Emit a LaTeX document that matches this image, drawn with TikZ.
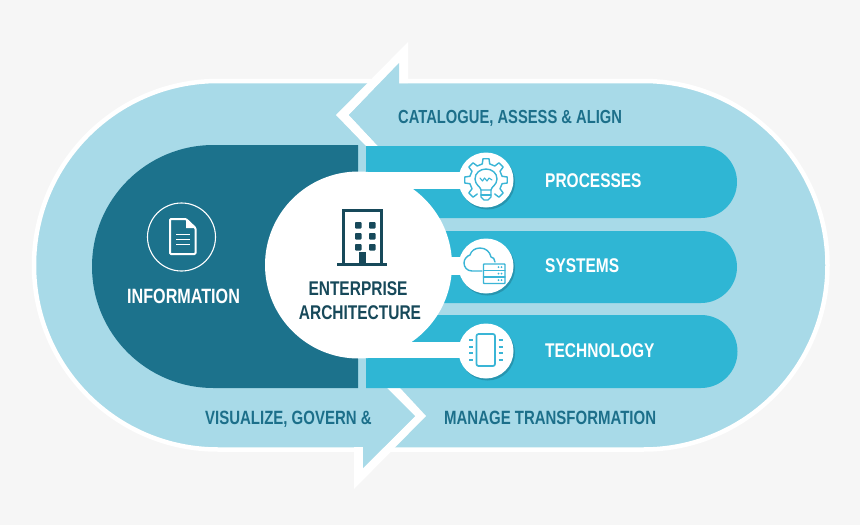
\documentclass[tikz,border=0pt]{standalone}
\usepackage{fontspec}
\setmainfont[FakeStretch=0.78]{Liberation Sans}
\usetikzlibrary{calc, positioning, shadows}
\definecolor{paper}{HTML}{F6F6F6}
\definecolor{pale}{HTML}{A8DAE8}
\definecolor{deep}{HTML}{1C728C}
\definecolor{bar}{HTML}{2FB6D4}
\definecolor{ink}{HTML}{17495A}
\definecolor{capt}{HTML}{1C6F8A}
\definecolor{glyph}{HTML}{3AB5D6}
\tikzset{
    captlabel/.style={anchor=base west, inner sep=0mm, text=capt, font=\bfseries\fontsize{18.9}{19}\selectfont},
    lowlabel/.style={captlabel, font=\bfseries\fontsize{19.2}{19}\selectfont},
    barlabel/.style={anchor=base west, inner sep=0mm, text=white, font=\bfseries\fontsize{19.85}{20}\selectfont},
    hublabel/.style={anchor=base, inner sep=0mm, text=ink, font=\bfseries\fontsize{19.85}{20}\selectfont},
    iconcircle/.style={circle, fill=white, minimum size=55pt, inner sep=0mm,
        drop shadow={shadow xshift=1.5pt, shadow yshift=-2pt, opacity=0.3, fill=ink}},
    glyphline/.style={draw=glyph, line width=1.4pt, line join=round, line cap=round}
}
\begin{document}
\begin{tikzpicture}[x=1pt, y=-1pt]
    \useasboundingbox (0, 0) rectangle (860, 525);
    \fill[paper] (0, 0) rectangle (860, 525);
    % outer band
    \draw[white, fill=pale, line width=4.5pt, rounded corners=184pt] (34, 81) rectangle (827.5, 449.5);
    % arrows
    \fill[white] (408, 42) -- (336, 115) -- (366, 146) -- (378, 146) -- (349, 115) -- (399, 63) -- (399, 83) -- (408, 83) -- cycle;
    \fill[pale] (399, 63) -- (349, 115) -- (378, 146) -- (399, 146) -- cycle;
    \fill[white] (354, 489) -- (426, 416) -- (400, 388) -- (387, 388) -- (415, 416) -- (363, 468) -- (363, 447) -- (354, 447) -- cycle;
    \fill[pale] (363, 468) -- (415, 416) -- (387, 388) -- (363, 388) -- cycle;
    % left block
    \fill[deep] (358, 145) -- (213.5, 145) arc[start angle=90, end angle=270, radius=121.5pt] -- (358, 388) -- cycle;
    % right bars
    \fill[bar] (366, 146) -- (701, 146) arc[start angle=90, end angle=-90, radius=36pt] -- (366, 218) -- cycle;
    \fill[bar] (366, 231) -- (701, 231) arc[start angle=90, end angle=-90, radius=36pt] -- (366, 303) -- cycle;
    \fill[bar] (366, 315) -- (701, 315) arc[start angle=90, end angle=-90, radius=36.5pt] -- (366, 388) -- cycle;
    % hub and stubs
    \node[circle, fill=white, minimum size=187pt, inner sep=0mm] (hub) at (358.5, 265) {};
    \fill[white] (358, 172) rectangle (486, 189);
    \fill[white] (440, 257) rectangle (486, 275);
    \fill[white] (358, 342) rectangle (486, 358);
    \node[iconcircle] (proc) at (486, 180) {};
    \node[iconcircle] (sys) at (486, 266) {};
    \node[iconcircle] (tech) at (486, 351) {};
    % building
    \draw[ink, line width=3pt] (343.5, 264) -- (343.5, 210.5) -- (381.5, 210.5) -- (381.5, 264);
    \draw[ink, line width=3pt] (337, 264.5) -- (387, 264.5);
    \foreach \wy in {222, 233, 244}
        \foreach \wx in {355, 369}
            \fill[ink, rounded corners=0.8pt] (\wx, \wy) rectangle ++(6.5, 6.5);
    \fill[ink] (359, 252) rectangle (366, 264);
    % document
    \node[circle, draw=white, line width=1.1pt, minimum size=68pt, inner sep=0mm] (info) at (181.5, 237) {};
    \draw[white, line width=2pt, line join=round, rounded corners=1pt] (170, 219) -- (186, 219) -- (195.5, 228) -- (195.5, 254) -- (170, 254) -- cycle;
    \fill[white] (186, 219) -- (186, 228) -- (195.5, 228) -- cycle;
    \foreach \ly in {234.5, 239.5, 244.5}
        \draw[white, line width=1.8pt] (176, \ly) -- (190, \ly);
    % gear with bulb
    \begin{scope}[shift={(486, 180)}]
        \draw[glyphline] (-58:16.5pt) \foreach \a in {-45, 0, 45, 90, 135, 180, 225} {
            -- ({\a-13}:16.5pt) -- ({\a-8}:21.5pt) -- ({\a+8}:21.5pt) -- ({\a+13}:16.5pt)};
        \draw[glyphline] (-5, 10) .. controls (-5, 7) and (-11, 5) .. (-11, -1) .. controls (-11, -7) and (-6, -11) .. (0, -11) .. controls (6, -11) and (11, -7) .. (11, -1) .. controls (11, 5) and (5, 7) .. (5, 10) -- cycle;
        \draw[glyphline] (-5, 10) -- (-5, 17) -- (-2, 20) -- (2, 20) -- (5, 17) -- (5, 10);
        \draw[glyphline] (-5, 15) -- (5, 15);
        \draw[glyphline, line width=1.1pt] (-6, -2) -- (-3.5, 1) -- (-1.5, -2) -- (1, 1) -- (3, -2) -- (6, 0);
    \end{scope}
    % cloud with server
    \draw[glyphline] (482, 271) -- (472, 271) .. controls (467, 271) and (464, 267) .. (464, 263) .. controls (464, 259) and (467, 256) .. (470, 255) .. controls (471, 251) and (475, 248) .. (480, 248) .. controls (486, 248) and (490, 252) .. (491, 257) .. controls (493, 257) and (495, 259) .. (495, 262);
    \draw[glyphline, rounded corners=0.6pt, fill=white] (483.5, 264) rectangle (505, 283.5);
    \draw[glyphline] (483.5, 270.5) -- (505, 270.5);
    \draw[glyphline] (483.5, 277) -- (505, 277);
    \foreach \ry in {267.2, 273.7, 280.2} {
        \fill[glyph] (498.5, \ry) circle[radius=1pt];
        \fill[glyph] (501.5, \ry) circle[radius=1pt];
    }
    % chip
    \draw[glyphline, line width=1.7pt, rounded corners=2pt] (476.5, 334) rectangle (495, 366);
    \foreach \py in {340, 347, 353, 360} {
        \draw[glyph, line width=2.4pt] (469, \py) -- (473, \py);
        \draw[glyph, line width=2.4pt] (498.5, \py) -- (502.5, \py);
    }
    % labels
    \node[captlabel] (cat) at (398, 123) {CATALOGUE, ASSESS \& ALIGN};
    \node[lowlabel] (vis) at (205, 424.5) {VISUALIZE, GOVERN \&};
    \node[lowlabel] (man) at (444, 424.5) {MANAGE TRANSFORMATION};
    \node[barlabel] (procl) at (545, 187) {PROCESSES};
    \node[barlabel] (sysl) at (545, 272) {SYSTEMS};
    \node[barlabel] (techl) at (545, 357) {TECHNOLOGY};
    \node[barlabel, font=\bfseries\fontsize{20.7}{21}\selectfont] (infol) at (127, 303) {INFORMATION};
    \node[hublabel] (ent) at (358, 295) {ENTERPRISE};
    \node[hublabel] (arch) at (360, 319) {ARCHITECTURE};
\end{tikzpicture}
\end{document}
